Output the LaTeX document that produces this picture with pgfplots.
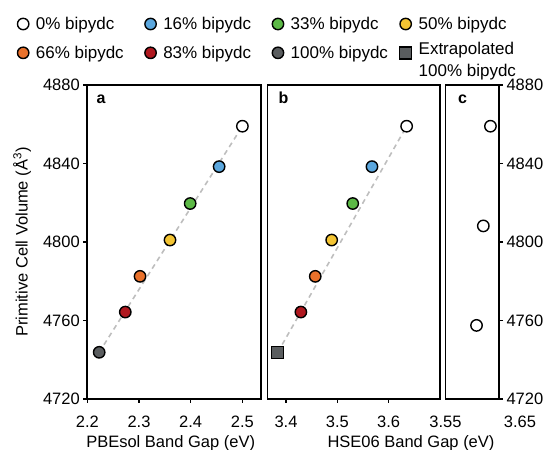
\documentclass[border=0pt]{standalone}
\usepackage{fontspec}
\setmainfont{Liberation Sans}
\usepackage{pgfplots}
\pgfplotsset{compat=1.18}
\definecolor{cblue}{HTML}{5BA7DE}
\definecolor{cgreen}{HTML}{5CB946}
\definecolor{cyellow}{HTML}{F3C433}
\definecolor{corange}{HTML}{E9712B}
\definecolor{cred}{HTML}{B0181F}
\definecolor{cgray}{HTML}{5A5D5F}
\definecolor{cdash}{HTML}{BEBEBE}
\pgfplotsset{
  panel/.style={
    scale only axis, height=314pt, ymin=4720, ymax=4880,
    anchor=south west,
    axis line style={line width=1.6pt},
    every tick/.style={black, line width=1.3pt},
    tick align=outside, major tick length=4pt,
    ytick={4720,4760,4800,4840,4880},
    tick label style={font=\fontsize{16.5}{20}\selectfont},
    xticklabel style={yshift=-9pt},
    label style={font=\fontsize{16.5}{20}\selectfont},
    /pgf/number format/1000 sep={},
    /pgf/number format/assume math mode=true,
  },
  mk/.style={only marks, mark=*, mark size=5.7pt,
    mark options={draw=black, line width=1.4pt, fill=#1}},
  sq/.style={only marks, mark=square*, mark size=6pt,
    mark options={draw=black, line width=1.4pt, fill=cgray}},
  dsh/.style={cdash, line width=1.6pt, dash pattern=on 5pt off 4pt},
}
\newcommand{\lgbox}[1]{\makebox[102pt][l]{#1}}
\begin{document}
\begin{tikzpicture}
\useasboundingbox (0,0) rectangle (550pt,450pt);
% panel a
\begin{axis}[panel, at={(87.3pt,51pt)}, width=173.7pt,
  xmin=2.2, xmax=2.536, xtick={2.2,2.3,2.4,2.5},
  xtick pos=bottom, ytick pos=left,
  xlabel={PBEsol Band Gap (eV)},
  xlabel style={at={(axis description cs:0.48,-0.14)}, anchor=center},
  ylabel={Primitive Cell Volume (Å\textsuperscript{3})},
  ylabel style={at={(axis description cs:-0.375,0.5)}, anchor=center, rotate=0},
  legend columns=4,
  legend cell align=left,
  legend style={at={(axis description cs:-0.402,1.2226)}, anchor=north west,
    draw=none, fill=none, inner sep=0pt, outer sep=0pt,
    font=\fontsize{17}{22}\selectfont,
    /tikz/every odd column/.append style={column sep=5pt},
    /tikz/every even column/.append style={column sep=5pt},
    row sep=4pt},
]
\addplot[dsh, forget plot] coordinates {(2.223,4743.8) (2.5,4859)};
\addplot[mk=white] coordinates {(2.5,4859)};
\addlegendentry{\lgbox{0\% bipydc}}
\addplot[mk=cblue] coordinates {(2.455,4838.4)};
\addlegendentry{\lgbox{16\% bipydc}}
\addplot[mk=cgreen] coordinates {(2.399,4819.6)};
\addlegendentry{\lgbox{33\% bipydc}}
\addplot[mk=cyellow] coordinates {(2.360,4801)};
\addlegendentry{\lgbox{50\% bipydc}}
\addplot[mk=corange] coordinates {(2.302,4782.5)};
\addlegendentry{\lgbox{66\% bipydc}}
\addplot[mk=cred] coordinates {(2.2735,4764.3)};
\addlegendentry{\lgbox{83\% bipydc}}
\addplot[mk=cgray] coordinates {(2.223,4743.8)};
\addlegendentry{\lgbox{100\% bipydc}}
\addlegendimage{sq}
\addlegendentry{\lgbox{\begin{tabular}{@{}l@{}}Extrapolated\\100\% bipydc\end{tabular}}}
\node[anchor=base west, font=\fontsize{16}{19}\selectfont\bfseries] at (axis description cs:0.034,0.941) {a};
\end{axis}
% panel b
\begin{axis}[panel, at={(267.3pt,51pt)}, width=172.7pt,
  xmin=3.3636, xmax=3.70, xtick={3.4,3.5,3.6},
  xtick pos=bottom, ytick=\empty,
  xlabel={HSE06 Band Gap (eV)},
  xlabel style={at={(axis description cs:0.832,-0.14)}, anchor=center},
]
\addplot[dsh] coordinates {(3.384,4743.8) (3.635,4859)};
\addplot[mk=white] coordinates {(3.635,4859)};
\addplot[mk=cblue] coordinates {(3.5675,4838.4)};
\addplot[mk=cgreen] coordinates {(3.530,4819.6)};
\addplot[mk=cyellow] coordinates {(3.489,4801)};
\addplot[mk=corange] coordinates {(3.457,4782.5)};
\addplot[mk=cred] coordinates {(3.429,4764.3)};
\addplot[sq] coordinates {(3.384,4743.8)};
\node[anchor=base west, font=\fontsize{16}{19}\selectfont\bfseries] at (axis description cs:0.045,0.941) {b};
\end{axis}
% panel c
\begin{axis}[panel, at={(445.5pt,51pt)}, width=53.5pt,
  xmin=3.55, xmax=3.65, xtick={3.55,3.65},
  xticklabels={3.55,{\hspace*{42pt}3.65}},
  xtick style={draw=none},
  ytick pos=right, yticklabel pos=right,
]
\addplot[mk=white] coordinates {(3.634,4859) (3.6207,4808.2) (3.608,4757.5)};
\node[anchor=base west, font=\fontsize{16}{19}\selectfont\bfseries] at (axis description cs:0.17,0.941) {c};
\end{axis}
\end{tikzpicture}
\end{document}
